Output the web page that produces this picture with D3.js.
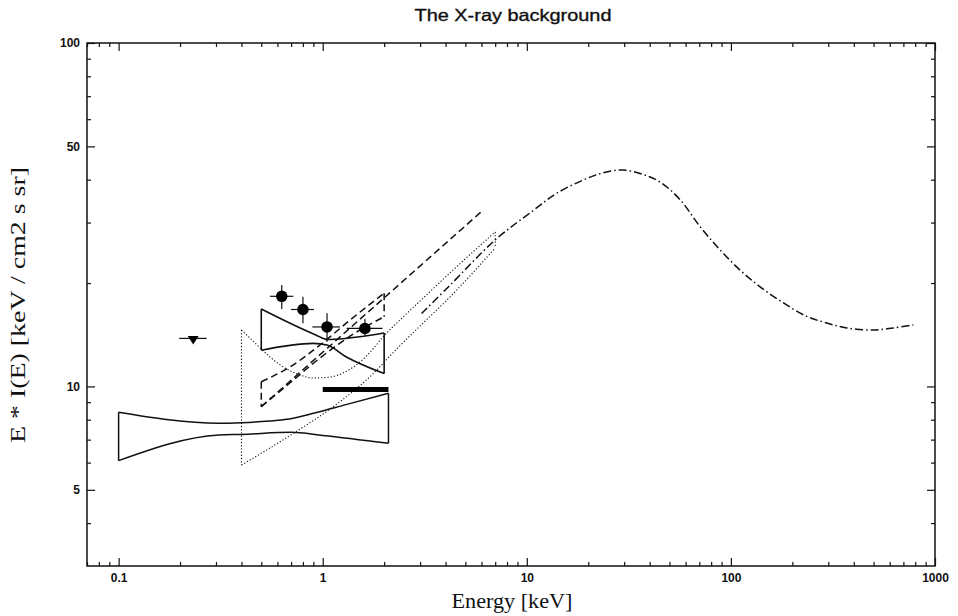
<!DOCTYPE html>
<html><head><meta charset="utf-8">
<script src="https://cdn.jsdelivr.net/npm/d3@7"></script>
<style>body{margin:0;background:#fff} svg{display:block}</style>
</head><body>
<svg id="chart" width="958" height="616"></svg>
<script>
// ---------- data ----------
const xMajorTicks = [0.1, 1, 10, 100, 1000];
const xTickLabels = ["0.1", "1", "10", "100", "1000"];
const yMajorTicks = [5, 10, 50, 100];
const yTickLabels = ["5", "10", "50", "100"];

// cosmic X-ray background model (dash-dot)
const cxbEnergy = [3.05, 4.2, 7.0, 10.8, 14.0, 18.9, 23.7, 29.7, 37.2, 45.2, 56.3, 70.6, 88.4, 111, 139, 181, 235, 295, 369, 499, 625, 783];
const cxbFlux   = [16.3, 19.7, 26.7, 32.6, 36.5, 39.9, 41.9, 42.7, 41.4, 39.3, 35.0, 29.2, 25.0, 21.8, 19.5, 17.5, 16.0, 15.3, 14.8, 14.6, 14.8, 15.1];

// large solid bow-tie 0.1-2.1 keV
const largeUpper = [[0.1, 8.41], [0.31, 7.81], [0.4, 7.84], [0.55, 7.93], [0.67, 8.02], [0.9, 8.35], [1.3, 8.85], [2.1, 9.55]];
const largeLower = [[0.1, 6.08], [0.31, 7.22], [0.4, 7.25], [0.7, 7.35], [1.0, 7.2], [2.1, 6.83]];

// small solid bow-tie 0.5-2 keV
const smallUpper = [[0.5, 16.8], [0.93, 14.1], [1.05, 13.7], [1.3, 13.8], [2.0, 14.3]];
const smallLower = [[0.5, 12.75], [0.9, 13.35], [1.05, 13.2], [1.3, 12.2], [2.0, 10.9]];

// dashed bow-tie 0.5-2 keV and dashed extrapolation to 6 keV
const dashedUpper = [[0.5, 10.32], [0.69, 11.39], [0.97, 13.2], [1.36, 15.6], [2.0, 18.67]];
const dashedLower = [[0.5, 8.73], [0.69, 10.23], [0.97, 12.1], [1.36, 14.0], [2.0, 15.96]];
const dashedFit   = [[0.5, 8.73], [6.0, 32.3]];

// dotted band 0.4-7 keV
const dottedUpper = [[0.4, 14.6], [0.466, 13.38], [0.552, 12.18], [0.654, 11.31], [0.774, 10.8], [0.896, 10.58], [1.086, 10.65], [1.286, 11.01], [1.523, 11.78], [1.744, 12.76], [1.974, 13.93], [2.39, 15.61], [3.0, 17.73], [4.2, 21.4], [7.0, 28.17]];
const dottedLower = [[0.4, 5.9], [0.718, 7.3], [1.127, 8.73], [1.84, 11.16], [2.18, 12.43], [3.0, 15.0], [4.2, 18.21], [7.0, 25.3]];

// thick bar 1-2.1 keV
const barEnergy = [1.0, 2.1];
const barFlux = 9.8;

// data points with error bars
const ptE    = [0.63, 0.80, 1.05, 1.61];
const ptF    = [18.3, 16.75, 14.9, 14.75];
const ptElo  = [0.552, 0.70, 0.89, 1.31];
const ptEhi  = [0.718, 0.906, 1.216, 1.963];
const ptFlo  = [16.8, 15.27, 13.5, 14.0];
const ptFhi  = [19.74, 18.24, 16.33, 15.72];

// upper limit (triangle)
const limE = [0.232];
const limF = [13.8];
const limElo = [0.198];
const limEhi = [0.27];

// ---------- layout ----------
const W = 958, H = 616;
const m = {left: 87, right: 23, top: 43, bottom: 50};
const svg = d3.select("#chart");
const x = d3.scaleLog().domain([0.07, 1000]).range([m.left, W - m.right]);
const y = d3.scaleLog().domain([3, 100]).range([H - m.bottom, m.top]);
const ink = "#111";

// minor tick positions
const xMinor = [];
[0.01, 0.1, 1, 10, 100].forEach(d => { for (let k = 2; k <= 9; k++) { const v = d * k; if (v >= 0.07 && v <= 1000) xMinor.push(v); } });
const yMinor = [];
[1, 10].forEach(d => { for (let k = 2; k <= 9; k++) { const v = d * k; if (v > 3 && v < 100 && !(v === 5 || v === 50)) yMinor.push(v); } });

function styleAxis(g) {
  g.select(".domain").remove();
  g.selectAll(".tick line").attr("stroke", ink).attr("stroke-width", 1.2);
  g.selectAll(".tick text").attr("fill", ink)
    .style("font-family", "'Liberation Sans', Arial, sans-serif")
    .style("font-weight", "bold").style("font-size", "12px");
}
const fmtX = (d) => xTickLabels[xMajorTicks.indexOf(d)];
const fmtY = (d) => yTickLabels[yMajorTicks.indexOf(d)];

// bottom
svg.append("g").attr("transform", `translate(0,${H - m.bottom})`)
  .call(d3.axisBottom(x).tickValues(xMajorTicks).tickFormat(fmtX).tickSizeInner(-8).tickSizeOuter(0).tickPadding(7)).call(styleAxis);
svg.append("g").attr("transform", `translate(0,${H - m.bottom})`)
  .call(d3.axisBottom(x).tickValues(xMinor).tickFormat("").tickSizeInner(-4).tickSizeOuter(0)).call(styleAxis);
// top
svg.append("g").attr("transform", `translate(0,${m.top})`)
  .call(d3.axisTop(x).tickValues(xMajorTicks).tickFormat("").tickSizeInner(-8).tickSizeOuter(0)).call(styleAxis);
svg.append("g").attr("transform", `translate(0,${m.top})`)
  .call(d3.axisTop(x).tickValues(xMinor).tickFormat("").tickSizeInner(-4).tickSizeOuter(0)).call(styleAxis);
// left
svg.append("g").attr("transform", `translate(${m.left},0)`)
  .call(d3.axisLeft(y).tickValues(yMajorTicks).tickFormat(fmtY).tickSizeInner(-8).tickSizeOuter(0).tickPadding(7)).call(styleAxis);
svg.append("g").attr("transform", `translate(${m.left},0)`)
  .call(d3.axisLeft(y).tickValues(yMinor).tickFormat("").tickSizeInner(-4).tickSizeOuter(0)).call(styleAxis);
// right
svg.append("g").attr("transform", `translate(${W - m.right},0)`)
  .call(d3.axisRight(y).tickValues(yMajorTicks).tickFormat("").tickSizeInner(-8).tickSizeOuter(0)).call(styleAxis);
svg.append("g").attr("transform", `translate(${W - m.right},0)`)
  .call(d3.axisRight(y).tickValues(yMinor).tickFormat("").tickSizeInner(-4).tickSizeOuter(0)).call(styleAxis);

// frame
svg.append("rect").attr("x", m.left).attr("y", m.top)
  .attr("width", W - m.left - m.right).attr("height", H - m.top - m.bottom)
  .attr("fill", "none").attr("stroke", ink).attr("stroke-width", 1.5);

// titles
svg.append("text").attr("x", 513).attr("y", 21).attr("text-anchor", "middle")
  .attr("textLength", 197).attr("lengthAdjust", "spacingAndGlyphs")
  .attr("stroke", ink).attr("stroke-width", 0.35)
  .style("font-family", "'Liberation Sans', Arial, sans-serif").style("font-size", "16.5px").attr("fill", ink)
  .text("The X-ray background");
svg.append("text").attr("x", 512).attr("y", 608).attr("text-anchor", "middle")
  .attr("textLength", 121).attr("lengthAdjust", "spacingAndGlyphs")
  .style("font-family", "'Liberation Serif', 'Times New Roman', serif").style("font-size", "21px").attr("fill", ink)
  .text("Energy [keV]");
svg.append("text").attr("transform", "translate(25,305) rotate(-90)").attr("text-anchor", "middle")
  .attr("textLength", 276).attr("lengthAdjust", "spacingAndGlyphs")
  .style("font-family", "'Liberation Serif', 'Times New Roman', serif").style("font-size", "22px").attr("fill", ink)
  .text("E * I(E) [keV / cm2 s sr]");

// ---------- marks ----------
const plot = svg.append("g");
const lineP = d3.line().x(d => x(d[0])).y(d => y(d[1])).curve(d3.curveMonotoneX);
const lineS = d3.line().x(d => x(d[0])).y(d => y(d[1])).curve(d3.curveCatmullRom.alpha(0.5));
const lineL = d3.line().x(d => x(d[0])).y(d => y(d[1]));

function band(upper, lower, dash, sw) {
  const g = plot.append("g").attr("fill", "none").attr("stroke", ink).attr("stroke-width", sw);
  if (dash) g.attr("stroke-dasharray", dash);
  g.append("path").attr("d", lineP(upper));
  g.append("path").attr("d", lineP(lower));
  g.append("path").attr("d", lineL([upper[0], lower[0]]));
  g.append("path").attr("d", lineL([upper[upper.length - 1], lower[lower.length - 1]]));
  return g;
}

band(largeUpper, largeLower, null, 1.5);
band(smallUpper, smallLower, null, 1.6);
band(dottedUpper, dottedLower, "1.2,2", 1.1);
band(dashedUpper, dashedLower, "7,4", 1.5);
plot.append("path").attr("d", lineL(dashedFit)).attr("fill", "none")
  .attr("stroke", ink).attr("stroke-width", 1.5).attr("stroke-dasharray", "7,4");

// dash-dot model curve
const cxb = cxbEnergy.map((e, i) => [e, cxbFlux[i]]);
plot.append("path").attr("d", lineS(cxb)).attr("fill", "none")
  .attr("stroke", ink).attr("stroke-width", 1.5).attr("stroke-dasharray", "8,3,1.5,3");

// thick bar
plot.append("line").attr("x1", x(barEnergy[0])).attr("x2", x(barEnergy[1]))
  .attr("y1", y(barFlux)).attr("y2", y(barFlux)).attr("stroke", "#000").attr("stroke-width", 5);

// points with error bars
const pts = plot.append("g").attr("stroke", ink).attr("stroke-width", 1.2);
ptE.forEach((e, i) => {
  pts.append("line").attr("x1", x(ptElo[i])).attr("x2", x(ptEhi[i])).attr("y1", y(ptF[i])).attr("y2", y(ptF[i]));
  pts.append("line").attr("x1", x(e)).attr("x2", x(e)).attr("y1", y(ptFlo[i])).attr("y2", y(ptFhi[i]));
  pts.append("circle").attr("cx", x(e)).attr("cy", y(ptF[i])).attr("r", 5.8).attr("fill", "#000").attr("stroke", "none");
});

// upper limit triangle
limE.forEach((e, i) => {
  const cx = x(e), cy = y(limF[i]);
  pts.append("line").attr("x1", x(limElo[i])).attr("x2", x(limEhi[i])).attr("y1", cy).attr("y2", cy);
  pts.append("path").attr("d", `M${cx - 5.5},${cy - 2.5}L${cx + 5.5},${cy - 2.5}L${cx},${cy + 6}Z`).attr("fill", "#000").attr("stroke", "none");
});
</script>
</body></html>
